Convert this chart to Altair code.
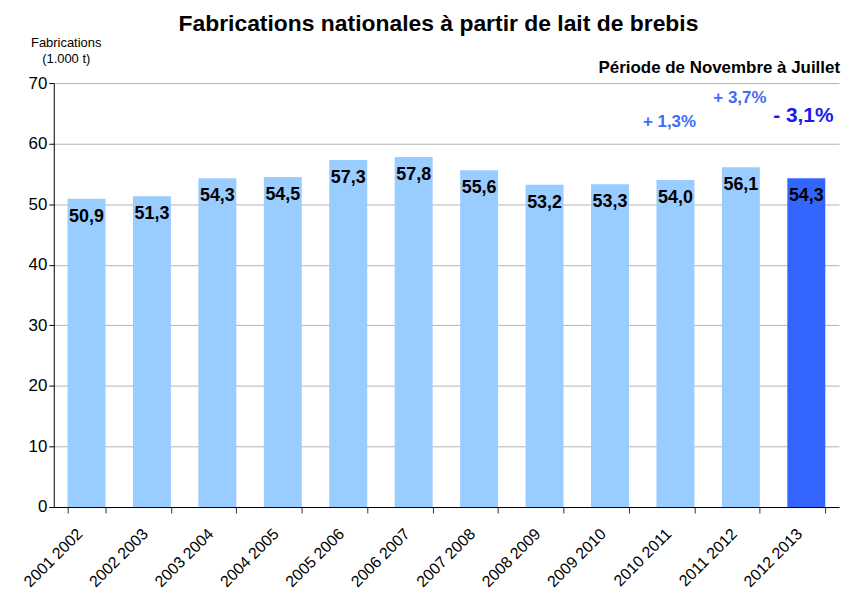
import altair as alt
import pandas as pd

campaigns = ["2001 2002", "2002 2003", "2003 2004", "2004 2005", "2005 2006", "2006 2007",
             "2007 2008", "2008 2009", "2009 2010", "2010 2011", "2011 2012", "2012 2013"]
values = [50.9, 51.3, 54.3, 54.5, 57.3, 57.8, 55.6, 53.2, 53.3, 54.0, 56.1, 54.3]
bar_colors = ["#99CCFF"] * 11 + ["#3366FF"]

ann_campaigns = ["2010 2011", "2011 2012", "2012 2013"]
ann_levels = [63.6, 67.6, 64.6]
ann_texts = ["+ 1,3%", "+ 3,7%", "- 3,1%"]
ann_colors = ["#3F6DF5", "#3F6DF5", "#1A1AF0"]
ann_sizes = [17, 17, 21]
ann_dx = [-6, -1, -3]

df = pd.DataFrame({
    "campaign": campaigns,
    "value": values,
    "color": bar_colors,
    "label": [f"{v:.1f}".replace(".", ",") for v in values],
})
ann = pd.DataFrame({"campaign": ann_campaigns, "level": ann_levels, "text": ann_texts})

FONT = "Liberation Sans"
W, H = 789, 426

x = alt.X("campaign:N", sort=campaigns, title=None,
          scale=alt.Scale(paddingInner=0.42, paddingOuter=0.21),
          axis=alt.Axis(labelAngle=-45, labelFontSize=16, labelFont=FONT, labelColor="black",
                        labelAlign="right", labelBaseline="middle", labelPadding=18,
                        domainColor="black", tickColor="#333333", tickSize=6,
                        tickBand="extent", labelOffset=-7))

bars = alt.Chart(df).mark_bar().encode(
    x=x,
    y=alt.Y("value:Q", scale=alt.Scale(domain=[0, 70]),
            title=["Fabrications", "(1.000 t)"],
            axis=alt.Axis(values=list(range(0, 71, 10)), labelFontSize=17, labelFont=FONT,
                          labelColor="black", grid=True, gridColor="#b3b3b3",
                          domainColor="black", tickColor="black", tickSize=5,
                          titleAngle=0, titleFont=FONT, titleFontSize=13,
                          titleFontWeight="normal", titleX=12, titleY=-34,
                          titleAlign="center", titleColor="black", titleLineHeight=16)),
    color=alt.Color("color:N", scale=None),
)

labels = alt.Chart(df).mark_text(font=FONT, fontSize=18, fontWeight="bold", color="black",
                                 baseline="middle", dy=18).encode(
    x=alt.X("campaign:N", sort=campaigns),
    y="value:Q",
    text="label:N",
)

annot_layers = []
for i in range(len(ann)):
    annot_layers.append(
        alt.Chart(ann.iloc[[i]]).mark_text(font=FONT, fontWeight="bold", baseline="middle",
                                           dx=int(ann_dx[i]), fontSize=int(ann_sizes[i]),
                                           color=ann_colors[i]).encode(
            x=alt.X("campaign:N", sort=campaigns),
            y="level:Q",
            text="text:N",
        )
    )

period = alt.Chart(pd.DataFrame({"t": ["Période de Novembre à Juillet"]})).mark_text(
    font=FONT, fontSize=17, fontWeight="bold", color="black", align="right", baseline="middle"
).encode(x=alt.value(W + 1), y=alt.value(-15), text="t:N")

chart = alt.layer(bars, labels, *annot_layers, period).properties(
    width=W, height=H,
    title=alt.TitleParams("Fabrications nationales à partir de lait de brebis",
                          font=FONT, fontSize=23, fontWeight="bold", color="black",
                          anchor="middle", dx=-8, dy=8, offset=8),
    autosize=alt.AutoSizeParams(type="none"),
    padding={"left": 46, "top": 74, "right": 4, "bottom": 90},
).configure_view(stroke=None).configure_axis(gridWidth=1)

chart.save("out.html", embed_options={"renderer": "svg", "actions": False})
